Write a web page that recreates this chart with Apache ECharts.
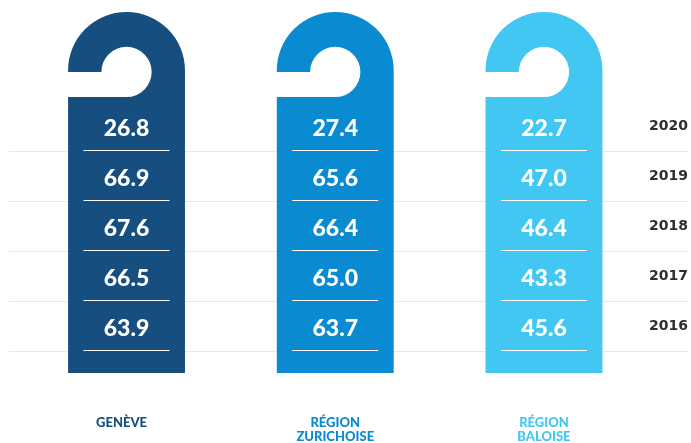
<!DOCTYPE html>
<html>
<head>
<meta charset="utf-8">
<script src="https://cdn.jsdelivr.net/npm/echarts@6/dist/echarts.min.js"></script>
<style>html,body{margin:0;padding:0;background:#fff}#chart{width:691px;height:443px}</style>
</head>
<body>
<div id="chart"></div>
<script>
// data, bottom year first
var years = ['2016', '2017', '2018', '2019', '2020'];
var regions = ['GENÈVE', 'RÉGION\nZURICHOISE', 'RÉGION\nBALOISE'];
var geneve = [63.9, 66.5, 67.6, 66.9, 26.8];
var zurich = [63.7, 65.0, 66.4, 65.6, 27.4];
var bale = [45.6, 43.3, 46.4, 47.0, 22.7];

var values = [geneve, zurich, bale];
var colors = ['#174e80', '#0a8ad0', '#42c7f3'];

var myChart = echarts.init(document.getElementById('chart'));

function renderHanger(params, api) {
    var i = api.value(0);
    var last = years.length - 1;
    var unit = api.size([1, 1]);
    var band = unit[1];
    var cx = api.coord([i, last])[0];
    var w = unit[0] * 0.56;
    var r = w / 2;
    var x0 = cx - r, x1 = cx + r;
    var top = api.coord([i, last])[1] - band / 2 - 89;
    var bottom = api.coord([i, 0])[1] + band / 2 + 22;
    var ac = top + r;      // centre of the top arc
    var hc = ac + 1.5;     // centre of the hole
    var hr = w * 0.215;
    var d = 'M' + x0 + ' ' + hc +
        ' L' + x0 + ' ' + ac +
        ' A' + r + ' ' + r + ' 0 0 1 ' + x1 + ' ' + ac +
        ' L' + x1 + ' ' + bottom +
        ' L' + x0 + ' ' + bottom +
        ' L' + x0 + ' ' + (hc + hr) +
        ' L' + cx + ' ' + (hc + hr) +
        ' A' + hr + ' ' + hr + ' 0 0 0 ' + cx + ' ' + (hc - hr) +
        ' A' + hr + ' ' + hr + ' 0 0 0 ' + (cx - hr) + ' ' + hc +
        ' Z';
    var children = [{
        type: 'path',
        shape: {pathData: d},
        style: {fill: colors[i]}
    }];
    values[i].forEach(function (v, k) {
        var y = api.coord([i, k])[1];
        children.push({
            type: 'text',
            style: {
                text: v.toFixed(1),
                x: cx, y: y + 3,
                align: 'center', verticalAlign: 'middle',
                fill: '#fff',
                fontFamily: 'Lato', fontWeight: 900, fontSize: 23
            }
        });
        var ly = Math.round(y + band / 2 - 1) + 0.5;
        children.push({
            type: 'line',
            shape: {x1: cx - 43, y1: ly, x2: cx + 43, y2: ly},
            style: {stroke: '#fff', lineWidth: 1.2}
        });
    });
    children.push({
        type: 'text',
        style: {
            text: regions[i],
            x: i === 0 ? cx - 5 : cx, y: bottom + 43,
            align: 'center', verticalAlign: 'top',
            fill: colors[i],
            fontFamily: 'Lato', fontWeight: 900, fontSize: 13, lineHeight: 14
        }
    });
    return {type: 'group', children: children};
}

var option = {
    backgroundColor: '#fff',
    animation: false,
    grid: {left: 9, right: 3, top: 101, bottom: 92},
    xAxis: {
        type: 'value',
        min: -0.563,
        max: 2.69,
        show: false
    },
    yAxis: {
        type: 'category',
        data: years,
        position: 'right',
        axisLine: {show: false},
        axisTick: {show: false},
        axisLabel: {
            inside: true,
            margin: 0,
            color: '#2e2e2e',
            fontFamily: 'DejaVu Sans',
            fontWeight: 'bold',
            fontSize: 14
        },
        splitLine: {
            show: true,
            showMaxLine: false,
            lineStyle: {color: '#e8e8e8', width: 1}
        }
    },
    series: [{
        type: 'custom',
        clip: false,
        renderItem: renderHanger,
        data: [[0, 4], [1, 4], [2, 4]]
    }]
};
myChart.setOption(option);
</script>
</body>
</html>
